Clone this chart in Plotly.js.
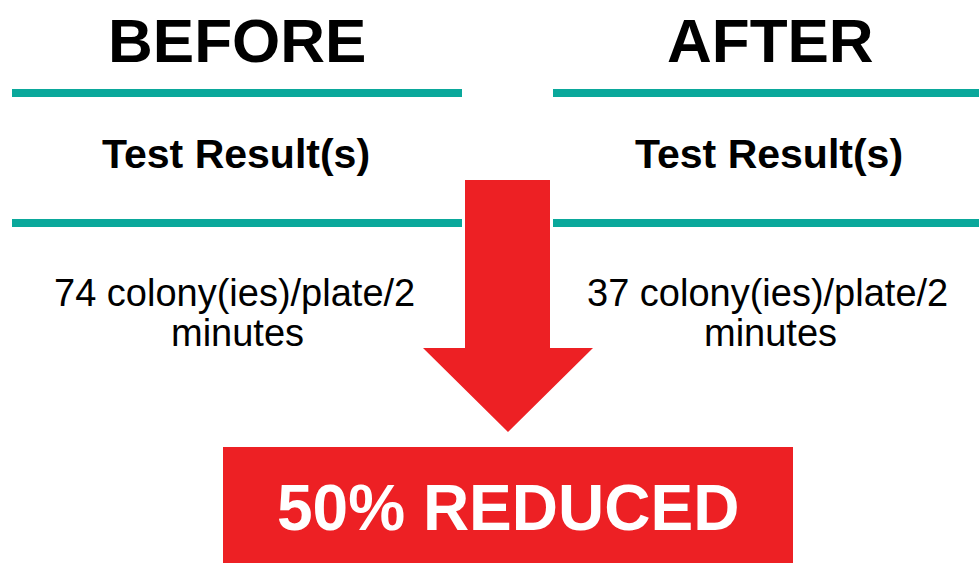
<!DOCTYPE html>
<html>
<head>
<meta charset="utf-8">
<script src="https://cdn.plot.ly/plotly-3.0.1.min.js"></script>
<style>html,body{margin:0;padding:0;background:#fff;}#chart{width:979px;height:563px;}</style>
</head>
<body>
<div id="chart"></div>
<script>
// ---- data ----
const phases = ["BEFORE", "AFTER"];
const headerLabel = "Test Result(s)";
const colonyCounts = [74, 37];
const unitLine1 = "colony(ies)/plate/2";
const unitLine2 = "minutes";
const reductionPct = [Math.round((colonyCounts[0] - colonyCounts[1]) / colonyCounts[0] * 100)];
const reductionWord = "REDUCED";

// ---- styling / layout ----
const TEAL = "#0AA89B";
const RED = "#ED2024";
const FONT = "Liberation Sans, Arial, Helvetica, sans-serif";
const colCenters = [237, 770];
const colSpans = [[12, 462], [553, 979]];

const shapes = [];
[93, 223].forEach(function (yc) {
  colSpans.forEach(function (s) {
    shapes.push({type: "rect", xref: "x", yref: "y", x0: s[0], x1: s[1], y0: yc - 4, y1: yc + 4,
      fillcolor: TEAL, line: {width: 0}, layer: "below"});
  });
});
// down arrow
shapes.push({type: "path", xref: "x", yref: "y",
  path: "M465,180 L550,180 L550,348 L593,348 L508,432 L423,348 L465,348 Z",
  fillcolor: RED, line: {width: 0}});
// result box
shapes.push({type: "rect", xref: "x", yref: "y", x0: 223, x1: 793, y0: 447, y1: 563,
  fillcolor: RED, line: {width: 0}});

const annotations = [];
phases.forEach(function (p, i) {
  annotations.push({x: colCenters[i], y: 40, xref: "x", yref: "y", text: "<b>" + p + "</b>",
    showarrow: false, xanchor: "center", yanchor: "middle",
    font: {family: FONT, size: 62, color: "#000"}});
  annotations.push({x: colCenters[i] - 1, y: 154, xref: "x", yref: "y", text: "<b>" + headerLabel + "</b>",
    showarrow: false, xanchor: "center", yanchor: "middle",
    font: {family: FONT, size: 41, color: "#000"}});
  annotations.push({x: colCenters[i] - 3, y: 293, xref: "x", yref: "y",
    text: colonyCounts[i] + " " + unitLine1,
    showarrow: false, xanchor: "center", yanchor: "middle",
    font: {family: FONT, size: 38, color: "#000"}});
  annotations.push({x: colCenters[i], y: 333, xref: "x", yref: "y",
    text: unitLine2,
    showarrow: false, xanchor: "center", yanchor: "middle",
    font: {family: FONT, size: 38, color: "#000"}});
});
annotations.push({x: 508, y: 508, xref: "x", yref: "y",
  text: "<b>" + reductionPct[0] + "% " + reductionWord + "</b>",
  showarrow: false, xanchor: "center", yanchor: "middle",
  font: {family: FONT, size: 64, color: "#fff"}});

const layout = {
  width: 979, height: 563,
  margin: {l: 0, r: 0, t: 0, b: 0},
  paper_bgcolor: "#fff", plot_bgcolor: "#fff",
  showlegend: false,
  xaxis: {range: [0, 979], visible: false, fixedrange: true},
  yaxis: {range: [563, 0], visible: false, fixedrange: true},
  shapes: shapes,
  annotations: annotations
};

Plotly.newPlot("chart", [{x: [], y: [], type: "scatter", mode: "markers", hoverinfo: "skip"}], layout,
  {displayModeBar: false, staticPlot: true});
</script>
</body>
</html>
